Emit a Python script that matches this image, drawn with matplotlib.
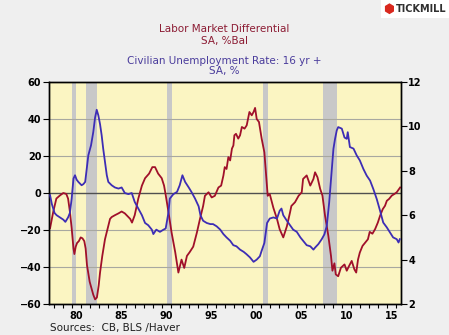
import matplotlib
matplotlib.use("Agg")
import matplotlib.pyplot as plt
import matplotlib.patches as patches

# Labor Market Differential (CB), SA, %Bal  -- left axis
diff_years = [1977.6, 1977.96, 1978.3, 1978.7, 1979.07, 1979.4, 1979.6, 1979.8, 1980.0, 1980.2,
              1980.3, 1980.45, 1980.6, 1980.8, 1981.0, 1981.2, 1981.4, 1981.55, 1981.7, 1982.0,
              1982.4, 1982.6, 1982.8, 1983.0, 1983.15, 1983.4, 1983.7, 1984.0, 1984.26, 1984.44,
              1984.8, 1985.2, 1985.55, 1985.9, 1986.1, 1986.5, 1986.7, 1987.0, 1987.4, 1987.8,
              1988.15, 1988.6, 1988.96, 1989.26, 1989.6, 1990.0, 1990.26, 1990.44, 1990.74, 1991.1,
              1991.5, 1991.85, 1992.2, 1992.5, 1992.8, 1993.1, 1993.5, 1993.9, 1994.25, 1994.6,
              1994.8, 1995.2, 1995.55, 1995.9, 1996.3, 1996.6, 1996.85, 1997.0, 1997.2, 1997.4,
              1997.6, 1997.8, 1997.96, 1998.07, 1998.25, 1998.5, 1998.7, 1998.9, 1999.2, 1999.44,
              1999.55, 1999.74, 2000.0, 2000.2, 2000.37, 2000.55, 2000.8, 2001.1, 2001.4, 2001.6,
              2001.77, 2002.0, 2002.4, 2002.8, 2003.1, 2003.5, 2003.9, 2004.25, 2004.4, 2004.8,
              2005.2, 2005.55, 2005.7, 2006.1, 2006.5, 2006.85, 2007.03, 2007.3, 2007.6, 2007.85,
              2008.14, 2008.5, 2008.8, 2008.96, 2009.18, 2009.33, 2009.6, 2009.9, 2010.3, 2010.55,
              2010.8, 2011.1, 2011.4, 2011.6, 2011.8, 2012.0, 2012.3, 2012.6, 2012.9, 2013.1,
              2013.4, 2013.7, 2014.0, 2014.25, 2014.55, 2014.8, 2015.0, 2015.25, 2015.55, 2015.85,
              2016.1, 2016.36, 2016.48]
diff_vals = [-19, -10, -3, -1.3, 0, -0.5, -3, -10, -19, -30,
             -33, -29, -27, -26, -24, -24.5, -26, -30, -39, -48,
             -55, -57.5, -56.5, -50, -43, -34, -25, -19, -14, -13,
             -12, -11, -10, -11, -12, -14, -16, -12, -3, 4,
             8, 10.5, 14, 14, 10.5, 8, 4, -1, -10, -21.5,
             -32, -43, -36, -40.5, -34, -32, -29, -21.5, -14, -7,
             -1.5, 0.4, -2.4, -1.5, 3, 4, 9.4, 14, 13, 19.4,
             17.6, 24, 25.7, 31.2, 32, 29.4, 31.2, 35.7, 34.8, 36.6,
             39.3, 43.8, 42, 43.8, 46, 40, 38.4, 29.4, 22, 9.4,
             -1.5, -0.6, -8, -14, -19.6, -24, -18, -10.5, -7, -5,
             -1.5, 0.4, 7.6, 9.5, 4, 7.6, 11.2, 8.5, 2.2, -1.4,
             -12.3, -23, -34, -42, -38, -44, -45, -40.4, -38.6, -42,
             -39.5, -36.7, -41.3, -43, -36, -32.2, -28.6, -26.8, -25, -21,
             -22, -19.5, -16, -12.3, -8.7, -6.9, -4.2, -3.2, -1.4, -0.5,
             0.4, 2.2, 3]

# Civilian Unemployment Rate: 16 yr +, SA, %  -- right axis
unemp_years = [1977.6, 1977.8, 1978.1, 1978.33, 1978.7, 1979.07, 1979.3, 1979.6, 1979.8, 1980.0,
               1980.2, 1980.37, 1980.55, 1980.74, 1981.1, 1981.3, 1981.5, 1981.67, 1981.85, 1982.15,
               1982.4, 1982.6, 1982.78, 1982.96, 1983.15, 1983.33, 1983.5, 1983.7, 1983.9, 1984.07,
               1984.44, 1984.8, 1985.2, 1985.55, 1985.9, 1986.3, 1986.67, 1987.0, 1987.4, 1987.8,
               1988.15, 1988.5, 1988.9, 1989.07, 1989.4, 1989.8, 1990.2, 1990.44, 1990.74, 1990.9,
               1991.3, 1991.7, 1992.0, 1992.3, 1992.6, 1993.0, 1993.3, 1993.7, 1994.1, 1994.3,
               1994.6, 1995.0, 1995.4, 1995.7, 1996.1, 1996.5, 1996.85, 1997.2, 1997.6, 1997.95,
               1998.3, 1998.7, 1999.1, 1999.4, 1999.8, 2000.2, 2000.55, 2000.9, 2001.1, 2001.4,
               2001.6, 2001.7, 2002.0, 2002.4, 2002.8, 2003.1, 2003.3, 2003.5, 2003.9, 2004.25,
               2004.6, 2005.0, 2005.4, 2005.7, 2006.1, 2006.5, 2006.85, 2007.03, 2007.4, 2007.77,
               2008.07, 2008.33, 2008.6, 2008.8, 2009.07, 2009.25, 2009.44, 2009.6, 2010.0, 2010.3,
               2010.55, 2010.66, 2010.9, 2011.3, 2011.66, 2012.0, 2012.4, 2012.77, 2013.14, 2013.5,
               2013.88, 2014.25, 2014.6, 2015.0, 2015.36, 2015.7, 2016.1, 2016.3, 2016.44]
unemp_vals = [6.9, 6.5, 6.1, 6.0, 5.9, 5.8, 5.7, 5.9, 6.1, 6.75,
              7.65, 7.8, 7.6, 7.5, 7.35, 7.4, 7.5, 8.1, 8.7, 9.15,
              9.75, 10.4, 10.75, 10.5, 10.1, 9.6, 9.0, 8.4, 7.8, 7.5,
              7.35, 7.25, 7.2, 7.25, 7.0, 6.95, 7.0, 6.6, 6.3, 6.0,
              5.65, 5.55, 5.35, 5.15, 5.35, 5.25, 5.35, 5.4, 6.1, 6.75,
              6.95, 7.05, 7.35, 7.8, 7.5, 7.25, 7.05, 6.75, 6.4, 6.0,
              5.75, 5.65, 5.6, 5.6, 5.5, 5.35, 5.15, 5.0, 4.85, 4.65,
              4.6, 4.45, 4.35, 4.25, 4.1, 3.9, 4.0, 4.15, 4.4, 4.75,
              5.35, 5.65, 5.85, 5.9, 5.85, 6.2, 6.3, 6.0, 5.75, 5.55,
              5.35, 5.25, 5.0, 4.85, 4.65, 4.6, 4.45, 4.54, 4.7, 4.92,
              5.14, 5.52, 6.58, 7.63, 8.99, 9.44, 9.82, 9.97, 9.9, 9.5,
              9.44, 9.74, 9.07, 9.0, 8.69, 8.47, 8.08, 7.78, 7.56, 7.18,
              6.73, 6.2, 5.67, 5.45, 5.22, 5.0, 4.92, 4.77, 4.92]

# NBER recessions (start, end)
recessions = [(1980.0, 1980.5), (1981.55, 1982.85), (1990.55, 1991.15),
              (2001.2, 2001.85), (2007.95, 2009.45)]

label_years = [1980, 1985, 1990, 1995, 2000, 2005, 2010, 2015]
label_text = ["80", "85", "90", "95", "00", "05", "10", "15"]

RED = "#a0102a"
BLUE = "#3d2db5"

fig = plt.figure(figsize=(4.49, 3.35), dpi=100)
fig.patch.set_facecolor("#efefef")

ax = fig.add_axes([0.1091, 0.0925, 0.7829, 0.6627])
ax.set_facecolor("#fbf5c2")
ax2 = ax.twinx()

for start, end in recessions:
    ax.axvspan(start, end, color="#c8c8c8", lw=0, zorder=1)

for y in [-40, -20, 20, 40]:
    ax.axhline(y, color="#a8a8a0", lw=0.8, zorder=2)
ax.axhline(0, color="#505050", lw=1.0, zorder=2)

ax.plot(diff_years, diff_vals, color=RED, lw=1.3, zorder=4)
ax2.plot(unemp_years, unemp_vals, color=BLUE, lw=1.3, zorder=4)

ax.set_xlim(1977.48, 2016.52)
ax.set_ylim(-60, 60)
ax2.set_ylim(2, 12)

ax.set_yticks([-60, -40, -20, 0, 20, 40, 60])
ax2.set_yticks([2, 4, 6, 8, 10, 12])
for a in (ax, ax2):
    a.tick_params(axis="y", length=4, width=0.8, labelsize=7, pad=1.5)
    for lab in a.get_yticklabels():
        lab.set_fontweight("bold")
    for sp in a.spines.values():
        sp.set_linewidth(1.0)
        sp.set_color("black")

# year ticks at year start, labels in the middle of the year
ax.set_xticks(range(1978, 2017), minor=True)
ax.set_xticks([y + 0.5 for y in label_years])
ax.set_xticklabels(label_text, fontsize=7, fontweight="bold")
ax.tick_params(axis="x", which="major", length=0, pad=5)
ax.tick_params(axis="x", which="minor", length=3, width=0.8)

# titles
fig.text(0.5, 1 - 29 / 335, "Labor Market Differential", ha="center", va="center",
         fontsize=7.5, color="#8c1c34")
fig.text(0.5, 1 - 41 / 335, "SA, %Bal", ha="center", va="center", fontsize=7.5, color="#8c1c34")
fig.text(0.5, 1 - 61 / 335, "Civilian Unemployment Rate: 16 yr +", ha="center", va="center",
         fontsize=7.5, color="#4a3c9c")
fig.text(0.5, 1 - 71 / 335, "SA, %", ha="center", va="center", fontsize=7.5, color="#4a3c9c")

fig.text(50 / 449, 1 - 328 / 335, "Sources:  CB, BLS /Haver", ha="left", va="center",
         fontsize=7.5, color="#202020")

# Tickmill logo
fig.patches.append(patches.Rectangle((381 / 449, 1 - 18 / 335), 68 / 449, 18 / 335,
                                     transform=fig.transFigure, facecolor="white",
                                     edgecolor="none"))
fig.text(389 / 449, 1 - 9 / 335, "\u2b22", ha="center", va="center", fontsize=9,
         color="#d9281e", family=["DejaVu Sans"])
fig.text(396 / 449, 1 - 9 / 335, "TICKMILL", ha="left", va="center", fontsize=7,
         fontweight="bold", color="#303030")

fig.savefig("out.png", dpi=100, facecolor=fig.get_facecolor())
